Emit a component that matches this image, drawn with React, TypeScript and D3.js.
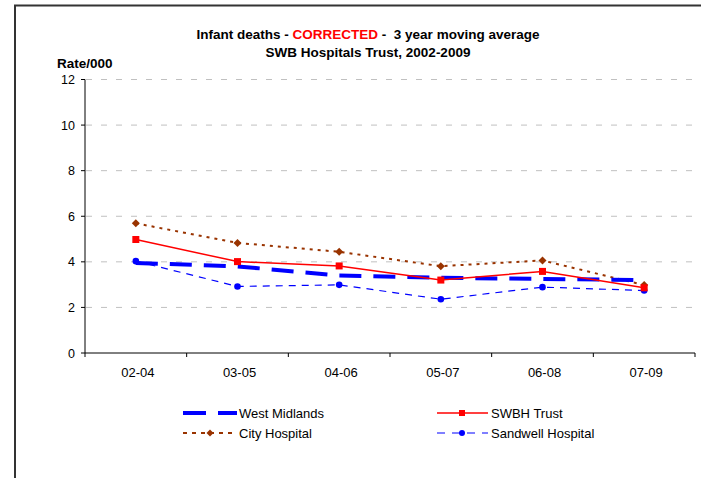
import React from "react";
import * as d3 from "d3";

const categories = ["02-04", "03-05", "04-06", "05-07", "06-08", "07-09"];
const westMidlands = [3.95, 3.8, 3.4, 3.3, 3.25, 3.2];
const swbhTrust = [4.98, 4.01, 3.82, 3.2, 3.58, 2.86];
const cityHospital = [5.69, 4.83, 4.44, 3.81, 4.06, 2.98];
const sandwellHospital = [4.03, 2.92, 2.99, 2.36, 2.89, 2.74];
const yTicks = [0, 2, 4, 6, 8, 10, 12];

const W = 701;
const H = 478;
const plotLeft = 85;
const plotRight = 695;
const plotTop = 79.5;
const plotBottom = 353;
const FONT = "Arial, 'Liberation Sans', Helvetica, sans-serif";

export default function App() {
  const x = d3.scaleBand<string>().domain(categories).range([plotLeft, plotRight]);
  const y = d3.scaleLinear().domain([0, 12]).range([plotBottom, plotTop]);
  const cx = (c: string) => (x(c) as number) + x.bandwidth() / 2;
  const line = d3
    .line<number>()
    .x((_, i) => cx(categories[i]))
    .y((d) => y(d));

  const diamond = (px: number, py: number, r: number) =>
    `M${px},${py - r}L${px + r},${py}L${px},${py + r}L${px - r},${py}Z`;

  const boundaries = [...categories.map((c) => x(c) as number), plotRight];

  return (
    <svg
      width={W}
      height={H}
      style={{ position: "absolute", left: 0, top: 0, background: "#fff" }}
      fontFamily={FONT}
    >
      <rect x={0} y={0} width={W} height={H} fill="#fff" />
      {/* frame */}
      <rect x={15} y={5.5} width={800} height={600} fill="none" stroke="#333" strokeWidth={2} />

      {/* titles */}
      <text x={368} y={39} textAnchor="middle" fontSize={13.5} fontWeight="bold" fill="#000">
        Infant deaths - <tspan fill="#ff0000">CORRECTED</tspan>
        <tspan xmlSpace="preserve">{" -  3 year moving average"}</tspan>
      </text>
      <text x={368} y={57} textAnchor="middle" fontSize={13.5} fontWeight="bold" fill="#000">
        SWB Hospitals Trust, 2002-2009
      </text>
      <text x={57} y={68} fontSize={13.5} fontWeight="bold" fill="#000">
        Rate/000
      </text>

      {/* gridlines */}
      {yTicks.filter((t) => t > 0).map((t) => (
        <line
          key={"g" + t}
          x1={plotLeft + 1}
          x2={plotRight}
          y1={y(t)}
          y2={y(t)}
          stroke="#c0c0c0"
          strokeWidth={1}
          strokeDasharray="6,9"
        />
      ))}

      {/* y axis */}
      <line x1={plotLeft} x2={plotLeft} y1={plotTop} y2={plotBottom} stroke="#000" strokeWidth={1} />
      {yTicks.map((t) => (
        <g key={"y" + t}>
          <line x1={plotLeft - 4} x2={plotLeft} y1={y(t)} y2={y(t)} stroke="#000" />
          <text x={75} y={y(t) + 4.5} textAnchor="end" fontSize={12.5} fill="#000">
            {t}
          </text>
        </g>
      ))}

      {/* x axis */}
      <line x1={plotLeft} x2={plotRight} y1={plotBottom} y2={plotBottom} stroke="#000" strokeWidth={1} />
      {boundaries.map((b, i) => (
        <line key={"xt" + i} x1={b} x2={b} y1={plotBottom} y2={plotBottom + 4} stroke="#000" />
      ))}
      {categories.map((c) => (
        <text key={"xl" + c} x={cx(c) + 2} y={377} textAnchor="middle" fontSize={13} fill="#000">
          {c}
        </text>
      ))}

      {/* series */}
      <path d={line(cityHospital) || ""} fill="none" stroke="#993300" strokeWidth={2} strokeDasharray="3,5" />
      {cityHospital.map((v, i) => (
        <path key={"cd" + i} d={diamond(cx(categories[i]), y(v), 4)} fill="#993300" />
      ))}

      <path d={line(sandwellHospital) || ""} fill="none" stroke="#0000ff" strokeWidth={1.2} strokeDasharray="7,6" />
      {sandwellHospital.map((v, i) => (
        <circle key={"sc" + i} cx={cx(categories[i])} cy={y(v)} r={3.3} fill="#0000ff" />
      ))}

      <path d={line(westMidlands) || ""} fill="none" stroke="#0000ff" strokeWidth={4} strokeDasharray="22,12" />

      <path d={line(swbhTrust) || ""} fill="none" stroke="#ff0000" strokeWidth={1.5} />
      {swbhTrust.map((v, i) => (
        <rect key={"sq" + i} x={cx(categories[i]) - 3.5} y={y(v) - 3.5} width={7} height={7} fill="#ff0000" />
      ))}

      {/* legend */}
      <g fontSize={13} fill="#000">
        <line x1={183} x2={237} y1={413} y2={413} stroke="#0000ff" strokeWidth={4} strokeDasharray="23,12" />
        <text x={239} y={418}>West Midlands</text>

        <line x1={183} x2={237} y1={433} y2={433} stroke="#993300" strokeWidth={2} strokeDasharray="4,5" />
        <path d={diamond(210, 433, 3.5)} fill="#993300" />
        <text x={239} y={438}>City Hospital</text>

        <line x1={437} x2={488} y1={413} y2={413} stroke="#ff0000" strokeWidth={1.5} />
        <rect x={459} y={410} width={6} height={6} fill="#ff0000" />
        <text x={491} y={418}>SWBH Trust</text>

        <line x1={437} x2={488} y1={433} y2={433} stroke="#0000ff" strokeWidth={1.2} strokeDasharray="8,7" />
        <circle cx={462} cy={433} r={3} fill="#0000ff" />
        <text x={491} y={438}>Sandwell Hospital</text>
      </g>
    </svg>
  );
}
